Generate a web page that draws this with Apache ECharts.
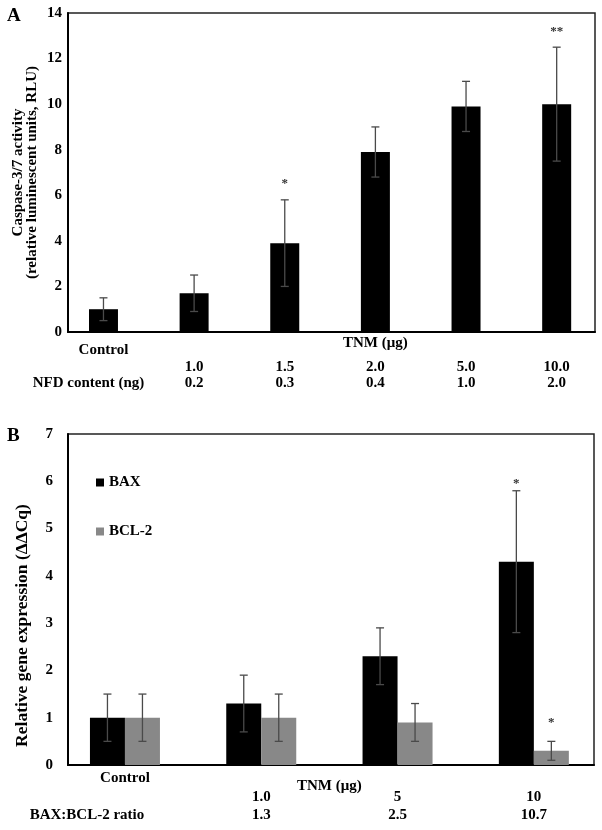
<!DOCTYPE html>
<html><head><meta charset="utf-8">
<script src="https://cdn.jsdelivr.net/npm/echarts@6/dist/echarts.min.js"></script>
<style>html,body{margin:0;padding:0;background:#fff}#c{width:602px;height:830px}</style>
</head><body><div id="c"></div>
<script>
// ---------- Panel A data ----------
const catsA = ['Control', '1.0', '1.5', '2.0', '5.0', '10.0'];
const headerA = ['Control', '', '', 'TNM (μg)', '', ''];
const doseA = ['', '1.0', '1.5', '2.0', '5.0', '10.0'];
const nfdA = ['NFD content (ng)', '0.2', '0.3', '0.4', '1.0', '2.0'];
const caspase = [1.0, 1.7, 3.9, 7.9, 9.9, 10.0];
const caspLow = [0.5, 0.9, 2.0, 6.8, 8.8, 7.5];
const caspHigh = [1.5, 2.5, 5.8, 9.0, 11.0, 12.5];
const sigA = ['', '', '*', '', '', '**'];
const sigAY = [null, null, 6.5, null, null, 13.2];

// ---------- Panel B data ----------
const groupsB = ['Control', '1.0', '5', '10'];
const headerB = ['Control', '', '', ''];
const doseB = ['', '1.0', '5', '10'];
const ratioB = ['BAX:BCL-2 ratio', '1.3', '2.5', '10.7'];
const bax = [1.0, 1.3, 2.3, 4.3];
const baxLow = [0.5, 0.7, 1.7, 2.8];
const baxHigh = [1.5, 1.9, 2.9, 5.8];
const bcl2 = [1.0, 1.0, 0.9, 0.3];
const bclLow = [0.5, 0.5, 0.5, 0.1];
const bclHigh = [1.5, 1.5, 1.3, 0.5];
const sigBax = ['', '', '', '*'];
const sigBaxY = [null, null, null, 5.95];
const sigBcl = ['', '', '', '*'];
const sigBclY = [null, null, null, 0.9];

// ---------- styles ----------
const F = 'Liberation Serif';
const txt = { fontFamily: F, fontWeight: 'bold', fontSize: 15, color: '#000' };
const BW_A = 29, BW_B = 35;
const ERR = '#4a4a4a';

function errRender(sig, sigY, dx) {
  return function (params, api) {
    const i = api.value(0);
    const pHi = api.coord([i, api.value(2)]);
    const pLo = api.coord([i, api.value(1)]);
    const x = pHi[0] + dx;
    const c = 4;
    const st = { stroke: ERR, lineWidth: 1.3 };
    const ch = [
      { type: 'line', shape: { x1: x, y1: pHi[1], x2: x, y2: pLo[1] }, style: st },
      { type: 'line', shape: { x1: x - c, y1: pHi[1], x2: x + c, y2: pHi[1] }, style: st },
      { type: 'line', shape: { x1: x - c, y1: pLo[1], x2: x + c, y2: pLo[1] }, style: st }
    ];
    if (sig[i]) {
      const ps = api.coord([i, sigY[i]]);
      ch.push({ type: 'text', style: { text: sig[i], x: x, y: ps[1], align: 'center', verticalAlign: 'middle',
        fontFamily: F, fontSize: 13, fontWeight: 'bold', fill: '#333' } });
    }
    return { type: 'group', children: ch };
  };
}

const grids = [], xAxes = [], yAxes = [];
function addGrid(g, xa, ya) {
  const gi = grids.length;
  grids.push(g);
  xa.gridIndex = gi; ya.gridIndex = gi;
  xAxes.push(xa); yAxes.push(ya);
  return { x: xAxes.length - 1, y: yAxes.length - 1 };
}
function rowGrid(left, width, y, data, rich0) {
  addGrid({ left: left, width: width, top: y, height: 1 }, {
    type: 'category', data: data, position: 'top',
    axisLine: { show: false }, axisTick: { show: false }, splitLine: { show: false },
    axisLabel: {
      interval: 0, margin: 0, verticalAlign: 'middle',
      formatter: (v, i) => i === 0 ? '{a|' + v + '}' : '{b|' + v + '}',
      rich: { a: Object.assign({}, txt, rich0), b: Object.assign({}, txt) }
    }
  }, { type: 'value', show: false });
}
const boxAxisX = (data) => ({ type: 'category', data: data, axisLine: { lineStyle: { color: '#000', width: 2 } }, axisTick: { show: false }, axisLabel: { show: false } });

// Panel A
addGrid({ left: 68, top: 13, width: 527, height: 319, show: true, borderColor: '#222', borderWidth: 1.5, backgroundColor: 'transparent' },
  boxAxisX(catsA),
  { type: 'value', min: 0, max: 14, interval: 2,
    axisLine: { show: true, lineStyle: { color: '#000', width: 2 } }, axisTick: { show: false }, splitLine: { show: false },
    axisLabel: Object.assign({ margin: 6 }, txt),
    name: 'Caspase-3/7 activity\n(relative luminescent units, RLU)', nameLocation: 'middle', nameGap: 29,
    nameMoveOverlap: false,
    nameTextStyle: Object.assign({}, txt, { lineHeight: 14 }) });
const LA = 58.15, WA = 556.2;
const dA = addGrid({ left: LA, top: 13, width: WA, height: 319 },
  { type: 'category', data: catsA, show: false }, { type: 'value', min: 0, max: 14, show: false });
rowGrid(LA, WA, 343, headerA, { padding: [14, 0, 0, 0] });
rowGrid(LA, WA, 367, doseA, {});
rowGrid(LA, WA, 383, nfdA, { padding: [0, 30, 0, 0] });

// Panel B
addGrid({ left: 68, top: 434, width: 526, height: 331, show: true, borderColor: '#222', borderWidth: 1.5, backgroundColor: 'transparent' },
  boxAxisX(groupsB),
  { type: 'value', min: 0, max: 7, interval: 1,
    axisLine: { show: true, lineStyle: { color: '#000', width: 2 } }, axisTick: { show: false }, splitLine: { show: false },
    axisLabel: Object.assign({ margin: 15 }, txt),
    name: 'Relative gene expression (ΔΔCq)', nameLocation: 'middle', nameGap: 37,
    nameMoveOverlap: false,
    nameTextStyle: Object.assign({}, txt, { fontSize: 17.5, padding: [0, 52, 0, 0] }) });
const LB = 56.8, WB = 554.8;
const dB = addGrid({ left: LB, top: 434, width: WB, height: 331 },
  { type: 'category', data: groupsB, axisLine: { show: false }, axisTick: { show: false }, axisLabel: { show: false },
    name: 'TNM (μg)', nameLocation: 'middle', nameGap: 14, nameTextStyle: Object.assign({}, txt) },
  { type: 'value', min: 0, max: 7, show: false });
rowGrid(LB, WB, 778, headerB, {});
rowGrid(LB, WB, 797, doseB, {});
rowGrid(LB, WB, 815, ratioB, { padding: [0, 76, 0, 0] });

const chart = echarts.init(document.getElementById('c'), null, { renderer: 'canvas' });
chart.setOption({
  animation: false,
  backgroundColor: '#fff',
  title: [
    { text: 'A', left: 7, top: 7, padding: 0, textStyle: { fontFamily: F, fontWeight: 'bold', fontSize: 19, color: '#000' } },
    { text: 'B', left: 7, top: 427, padding: 0, textStyle: { fontFamily: F, fontWeight: 'bold', fontSize: 19, color: '#000' } }
  ],
  legend: {
    data: ['BAX', 'BCL-2'], orient: 'vertical', left: 96, top: 475, icon: 'rect',
    itemWidth: 8, itemHeight: 8, itemGap: 34, padding: 0,
    textStyle: { fontFamily: F, fontWeight: 'bold', fontSize: 15, color: '#000' }
  },
  grid: grids,
  xAxis: xAxes,
  yAxis: yAxes,
  series: [
    { type: 'bar', xAxisIndex: dA.x, yAxisIndex: dA.y, data: caspase, barWidth: BW_A, itemStyle: { color: '#000' } },
    { type: 'custom', xAxisIndex: dA.x, yAxisIndex: dA.y, z: 5,
      data: catsA.map((c, i) => [i, caspLow[i], caspHigh[i]]), encode: { x: 0, y: [1, 2] },
      renderItem: errRender(sigA, sigAY, 0) },
    { name: 'BAX', type: 'bar', xAxisIndex: dB.x, yAxisIndex: dB.y, data: bax, barWidth: BW_B, barGap: '0%', itemStyle: { color: '#000' } },
    { name: 'BCL-2', type: 'bar', xAxisIndex: dB.x, yAxisIndex: dB.y, data: bcl2, barWidth: BW_B, barGap: '0%', itemStyle: { color: '#888888' } },
    { type: 'custom', xAxisIndex: dB.x, yAxisIndex: dB.y, z: 5,
      data: groupsB.map((c, i) => [i, baxLow[i], baxHigh[i]]), encode: { x: 0, y: [1, 2] },
      renderItem: errRender(sigBax, sigBaxY, -BW_B / 2) },
    { type: 'custom', xAxisIndex: dB.x, yAxisIndex: dB.y, z: 5,
      data: groupsB.map((c, i) => [i, bclLow[i], bclHigh[i]]), encode: { x: 0, y: [1, 2] },
      renderItem: errRender(sigBcl, sigBclY, BW_B / 2) }
  ]
});
</script>
</body></html>
